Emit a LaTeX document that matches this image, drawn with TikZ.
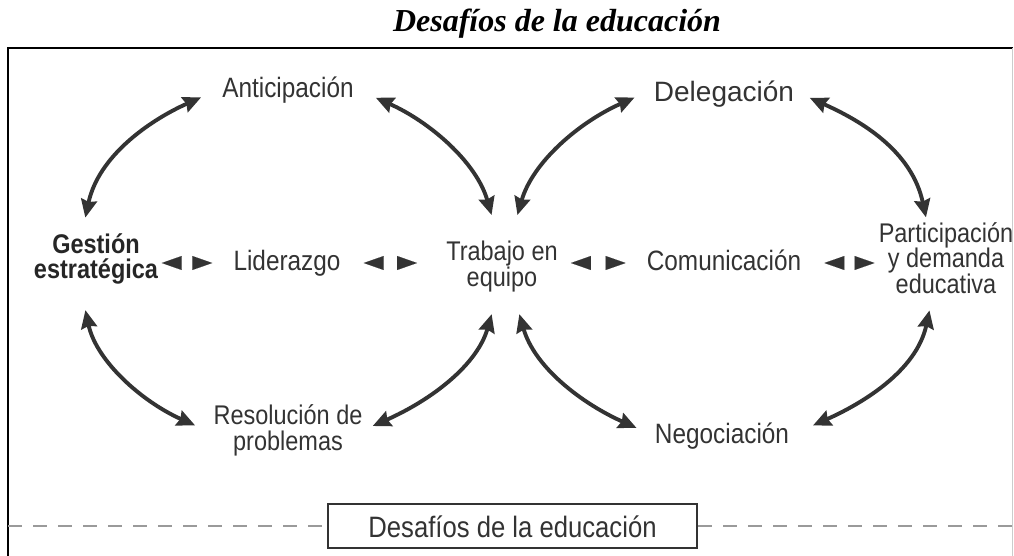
\documentclass[tikz,border=0pt]{standalone}
\usepackage{fontspec}
\setmainfont{Liberation Serif}
\newfontfamily\narrowsans[FakeStretch=0.87]{Liberation Sans}
\newfontfamily\widesans{Liberation Sans}
\usetikzlibrary{arrows.meta}
\definecolor{ink}{HTML}{333333}
\definecolor{dashgray}{HTML}{9A9A9A}
\begin{document}
\begin{tikzpicture}[x=1pt,y=1pt,>={Stealth[length=18pt,width=16pt,inset=2pt]},
		lbl/.style={inner sep=0pt,text=ink,text height=20pt,text depth=6pt,font={\narrowsans\fontsize{28}{24}\selectfont}},
		lbls/.style={inner sep=0pt,text=ink,align=center,font={\narrowsans\fontsize{27}{25.5}\selectfont\lineskiplimit=-20pt}},
		arc/.style={<->,ink,line width=3.9pt},
		pair/.style={white,line width=.1pt,{Triangle[length=20pt,width=14pt,color=ink]}-{Triangle[length=20pt,width=14pt,color=ink]}}]
		\useasboundingbox (0,0) rectangle (1014,-556);
		\coordinate (fl) at (8,-48);
		\coordinate (fr) at (1012.5,-48);
		\node[anchor=base,font={\bfseries\itshape\fontsize{32}{36}\selectfont}] (title) at (557,-32) {Desafíos de la educación};
		\draw[line width=2.5pt] (8,-556)--(fl)--(1013,-48);
		\draw[line width=.8pt,black!20] (fr)--(1012.5,-556);
		\node[lbl,anchor=base] (ant) at (288,-98) {Anticipación};
		\node[lbl,anchor=base,font={\widesans\fontsize{28}{24}\selectfont}] (del) at (724,-102) {Delegación};
		\node[lbls,text=black!85,font={\narrowsans\bfseries\fontsize{27}{25.5}\selectfont\lineskiplimit=-20pt}] (gest) at (96,-259) {Gestión\\estratégica};
		\node[lbl,anchor=base] (lid) at (287,-270) {Liderazgo};
		\node[lbls] (trab) at (502,-266.5) {Trabajo en\\equipo};
		\node[lbl,anchor=base] (com) at (724,-270) {Comunicación};
		\node[lbls] (part) at (946,-258) {Participación\\y demanda\\educativa};
		\node[lbls] (res) at (288,-430.5) {Resolución de\\problemas};
		\node[lbl,anchor=base] (neg) at (722,-443) {Negociación};
		\node[draw=ink,line width=2.5pt,minimum width=369pt,minimum height=44pt,inner sep=0pt,text=ink,text height=22pt,text depth=0pt,font={\narrowsans\fontsize{29.5}{30}\selectfont}] (box) at (512.5,-526) {Desafíos de la educación};
		\draw[dashgray,line width=2pt,dash pattern=on 14pt off 11pt] (box.west -| fl)--(box.west) (box.east)--(box.east -| fr);
		% upper loops
		\draw[arc,shorten <=16pt,shorten >=23pt] ([xshift=-14pt]gest.north) to[out=78,in=204] ([yshift=3pt]ant.west);
		\draw[arc,shorten <=24pt,shorten >=27pt] ([yshift=3pt]ant.east) to[out=-24,in=106] ([xshift=-3pt]trab.north);
		\draw[arc,shorten <=27pt,shorten >=21pt] ([xshift=8pt]trab.north) to[out=74,in=204] ([yshift=6pt]del.west);
		\draw[arc,shorten <=17pt,shorten >=5pt] ([yshift=4pt]del.east) to[out=-24,in=102] ([xshift=-19pt]part.north);
		% lower loops
		\draw[arc,shorten <=26pt,shorten >=20pt] ([xshift=-16pt]gest.south) to[out=-78,in=156] ([yshift=-3pt]res.west);
		\draw[arc,shorten <=11pt,shorten >=23pt] (res.east) to[out=24,in=254] ([xshift=-4pt]trab.south);
		\draw[arc,shorten <=23pt,shorten >=20pt] ([xshift=11pt]trab.south) to[out=-74,in=156] (neg.west);
		\draw[arc,shorten <=26pt,shorten >=17pt] (neg.east) to[out=24,in=258] ([xshift=-13pt]part.south);
		% middle row
		\draw[pair,shorten <=3.5pt,shorten >=21pt] (lid.west -| gest.east)--(lid.west);
		\draw[pair,shorten <=23pt,shorten >=29pt] (lid.east)--(lid.east -| trab.west);
		\draw[pair,shorten <=13pt,shorten >=21pt] (com.west -| trab.east)--(com.west);
		\draw[pair,shorten <=23pt,shorten >=4pt] (com.east)--(com.east -| part.west);
		%\draw[help lines,step=50](0,-556)grid(1014,0);
		\end{tikzpicture}
\end{document}
